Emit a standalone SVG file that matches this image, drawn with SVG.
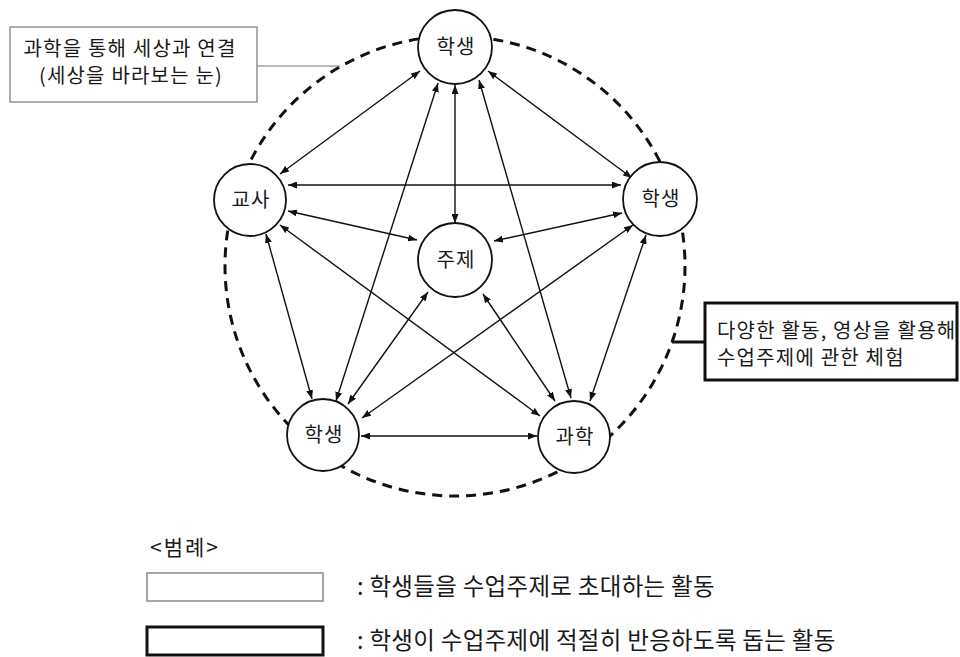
<svg xmlns="http://www.w3.org/2000/svg" width="960" height="657" viewBox="0 0 960 657">
<style>
text{font-family:"Noto Sans CJK KR","Liberation Sans",sans-serif;fill:#1a1a1a}
.node circle{fill:#fff;stroke:#111;stroke-width:1.8}
.node text{font-size:20px;text-anchor:middle;letter-spacing:1px}
.edge{stroke:#111;stroke-width:1.4;fill:none;marker-start:url(#ah);marker-end:url(#ah)}
.lbl{font-size:20px;letter-spacing:1.2px}
.leg{font-size:23.5px;letter-spacing:0.3px}
</style>
<defs>
<marker id="ah" viewBox="0 0 9 7" refX="9" refY="3.5" markerWidth="9" markerHeight="7" markerUnits="userSpaceOnUse" orient="auto-start-reverse">
<path d="M0,0 L9,3.5 L0,7 z" fill="#111"/>
</marker>
</defs>
<rect width="960" height="657" fill="#fff"/>
<circle id="boundary" cx="455" cy="266" r="230" fill="none" stroke="#111" stroke-width="3" stroke-dasharray="10 7"/>
<g id="connectors">
<line class="edge" x1="420" y1="71" x2="280" y2="174"/>
<line class="edge" x1="488" y1="71" x2="632" y2="178"/>
<line class="edge" x1="455" y1="85" x2="455" y2="223"/>
<line class="edge" x1="438" y1="83" x2="336" y2="401"/>
<line class="edge" x1="479" y1="80" x2="571" y2="398"/>
<line class="edge" x1="288" y1="185" x2="621" y2="185"/>
<line class="edge" x1="288" y1="211" x2="417" y2="240"/>
<line class="edge" x1="622" y1="213" x2="494" y2="241"/>
<line class="edge" x1="266" y1="234" x2="312" y2="399"/>
<line class="edge" x1="280" y1="225" x2="540" y2="416"/>
<line class="edge" x1="428" y1="292" x2="348" y2="404"/>
<line class="edge" x1="483" y1="294" x2="555" y2="401"/>
<line class="edge" x1="633" y1="225" x2="362" y2="418"/>
<line class="edge" x1="646" y1="235" x2="590" y2="401"/>
<line class="edge" x1="361" y1="436" x2="537" y2="436"/>
<line x1="257" y1="66" x2="340" y2="66" stroke="#777" stroke-width="1.2"/>
<line x1="672" y1="342" x2="705" y2="342" stroke="#111" stroke-width="3"/>
</g>
<g id="n-top" class="node"><circle cx="455" cy="47" r="37"/><text x="456" y="54">학생</text></g>
<g id="n-teacher" class="node"><circle cx="250" cy="200" r="36"/><text x="251" y="207">교사</text></g>
<g id="n-right" class="node"><circle cx="660" cy="199" r="37"/><text x="661" y="206">학생</text></g>
<g id="n-topic" class="node"><circle cx="455" cy="260" r="37"/><text x="456" y="267">주제</text></g>
<g id="n-bl" class="node"><circle cx="323" cy="435" r="36"/><text x="324" y="442">학생</text></g>
<g id="n-science" class="node"><circle cx="574" cy="437" r="36"/><text x="575" y="444">과학</text></g>
<g id="box-left">
<rect x="10" y="27" width="247" height="75" fill="#fff" stroke="#777" stroke-width="1.2"/>
<text class="lbl" x="130" y="56" text-anchor="middle">과학을 통해 세상과 연결</text>
<text class="lbl" x="131" y="83" text-anchor="middle">(세상을 바라보는 눈)</text>
</g>
<g id="box-right">
<rect x="705" y="303" width="252" height="77" fill="#fff" stroke="#111" stroke-width="3"/>
<text class="lbl" x="717" y="338">다양한 활동, 영상을 활용해</text>
<text class="lbl" x="717" y="365">수업주제에 관한 체험</text>
</g>
<g id="legend">
<text x="150" y="555" font-size="21" letter-spacing="2">&lt;범례&gt;</text>
<rect x="147" y="573" width="176" height="28" fill="#fff" stroke="#888" stroke-width="1.5"/>
<text class="leg" x="357" y="595">: 학생들을 수업주제로 초대하는 활동</text>
<rect x="147" y="627" width="176" height="28" fill="#fff" stroke="#111" stroke-width="3"/>
<text class="leg" x="357" y="649">: 학생이 수업주제에 적절히 반응하도록 돕는 활동</text>
</g>
</svg>
